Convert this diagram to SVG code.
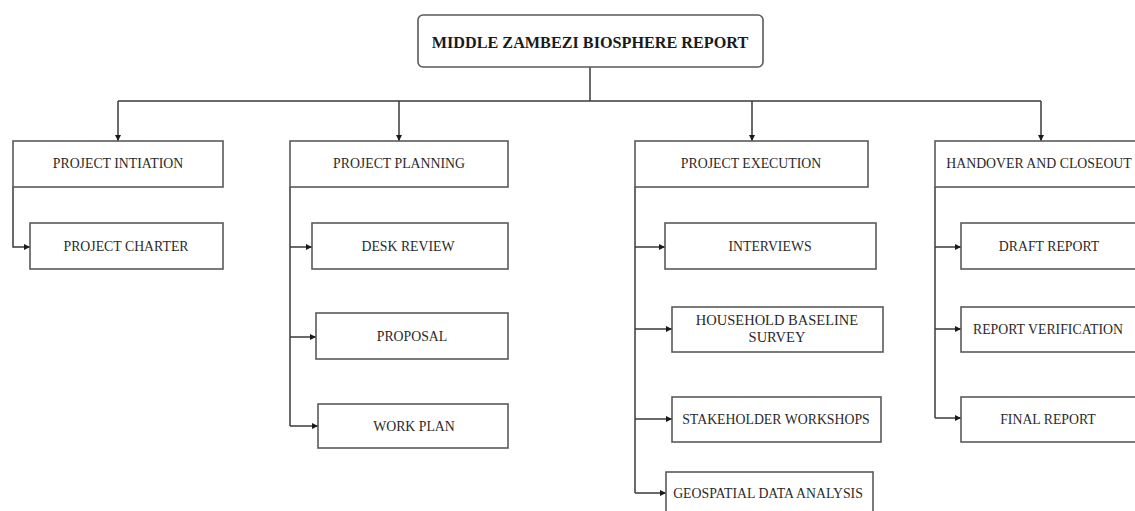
<svg xmlns="http://www.w3.org/2000/svg" width="1135" height="511" viewBox="0 0 1135 511">
  <style>
    .box { fill: #ffffff; stroke: #5a5a5a; stroke-width: 1.6; }
    .lbl { font-family: "Liberation Serif", "Times New Roman", serif; font-size: 13.8px; fill: #2a2a2a; text-anchor: middle; }
    .title { font-family: "Liberation Serif", "Times New Roman", serif; font-size: 16.2px; font-weight: bold; fill: #1a1a1a; text-anchor: middle; }
    .wire { fill: none; stroke: #3a3a3a; stroke-width: 1.5; }
  </style>
  <defs>
    <marker id="arrow" viewBox="0 0 6 6" refX="6" refY="3" markerWidth="6" markerHeight="6" markerUnits="userSpaceOnUse" orient="auto">
      <path d="M0,0 L6,3 L0,6 Z" fill="#1a1a1a"/>
    </marker>
  </defs>
  <rect width="1135" height="511" fill="#ffffff"/>

  <g id="connectors">
    <!-- root to phase bus -->
    <path class="wire" d="M590,67 V101"/>
    <path class="wire" d="M118,101 H1041"/>
    <path class="wire" d="M118,101 V141" marker-end="url(#arrow)"/>
    <path class="wire" d="M399,101 V141" marker-end="url(#arrow)"/>
    <path class="wire" d="M752,101 V141" marker-end="url(#arrow)"/>
    <path class="wire" d="M1041,101 V141" marker-end="url(#arrow)"/>
    <!-- initiation -->
    <path class="wire" d="M13,187 V247 H30" marker-end="url(#arrow)"/>
    <!-- planning -->
    <path class="wire" d="M290,187 V426"/>
    <path class="wire" d="M290,247 H312" marker-end="url(#arrow)"/>
    <path class="wire" d="M290,337 H316" marker-end="url(#arrow)"/>
    <path class="wire" d="M290,426 H318" marker-end="url(#arrow)"/>
    <!-- execution -->
    <path class="wire" d="M635,187 V493"/>
    <path class="wire" d="M635,247 H665" marker-end="url(#arrow)"/>
    <path class="wire" d="M635,329 H672" marker-end="url(#arrow)"/>
    <path class="wire" d="M635,419 H672" marker-end="url(#arrow)"/>
    <path class="wire" d="M635,493 H666" marker-end="url(#arrow)"/>
    <!-- handover -->
    <path class="wire" d="M935,187 V418"/>
    <path class="wire" d="M935,247 H961" marker-end="url(#arrow)"/>
    <path class="wire" d="M935,329 H961" marker-end="url(#arrow)"/>
    <path class="wire" d="M935,418 H961" marker-end="url(#arrow)"/>
  </g>

  <g id="root">
    <rect class="box" x="418" y="15" width="345" height="52" rx="5"/>
    <text class="title" x="590" y="47.5">MIDDLE ZAMBEZI BIOSPHERE REPORT</text>
  </g>

  <g id="project-initiation">
    <rect class="box" x="13" y="141" width="210" height="46"/>
    <text class="lbl" x="118" y="168">PROJECT INTIATION</text>
  </g>
  <g id="project-charter">
    <rect class="box" x="30" y="223" width="193" height="46"/>
    <text class="lbl" x="126" y="251">PROJECT CHARTER</text>
  </g>

  <g id="project-planning">
    <rect class="box" x="290" y="141" width="218" height="46"/>
    <text class="lbl" x="399" y="168">PROJECT PLANNING</text>
  </g>
  <g id="desk-review">
    <rect class="box" x="312" y="223" width="196" height="46"/>
    <text class="lbl" x="408" y="251">DESK REVIEW</text>
  </g>
  <g id="proposal">
    <rect class="box" x="316" y="313" width="192" height="46"/>
    <text class="lbl" x="412" y="341">PROPOSAL</text>
  </g>
  <g id="work-plan">
    <rect class="box" x="318" y="404" width="190" height="44"/>
    <text class="lbl" x="414" y="431">WORK PLAN</text>
  </g>

  <g id="project-execution">
    <rect class="box" x="635" y="141" width="233" height="46"/>
    <text class="lbl" x="751" y="168">PROJECT EXECUTION</text>
  </g>
  <g id="interviews">
    <rect class="box" x="665" y="223" width="211" height="46"/>
    <text class="lbl" x="770" y="251">INTERVIEWS</text>
  </g>
  <g id="household-baseline-survey">
    <rect class="box" x="672" y="307" width="211" height="45"/>
    <text class="lbl" x="777" y="325" style="font-size:14.5px">HOUSEHOLD BASELINE</text>
    <text class="lbl" x="777" y="342" style="font-size:14.5px">SURVEY</text>
  </g>
  <g id="stakeholder-workshops">
    <rect class="box" x="672" y="397" width="209" height="45"/>
    <text class="lbl" x="776" y="424">STAKEHOLDER WORKSHOPS</text>
  </g>
  <g id="geospatial-data-analysis">
    <rect class="box" x="666" y="472" width="207" height="46"/>
    <text class="lbl" x="768" y="498">GEOSPATIAL DATA ANALYSIS</text>
  </g>

  <g id="handover-and-closeout">
    <rect class="box" x="935" y="141" width="210" height="46"/>
    <text class="lbl" x="1039" y="168">HANDOVER AND CLOSEOUT</text>
  </g>
  <g id="draft-report">
    <rect class="box" x="961" y="223" width="184" height="46"/>
    <text class="lbl" x="1049" y="251">DRAFT REPORT</text>
  </g>
  <g id="report-verification">
    <rect class="box" x="961" y="307" width="184" height="45"/>
    <text class="lbl" x="1048" y="334">REPORT VERIFICATION</text>
  </g>
  <g id="final-report">
    <rect class="box" x="961" y="397" width="184" height="45"/>
    <text class="lbl" x="1048" y="424">FINAL REPORT</text>
  </g>
</svg>
